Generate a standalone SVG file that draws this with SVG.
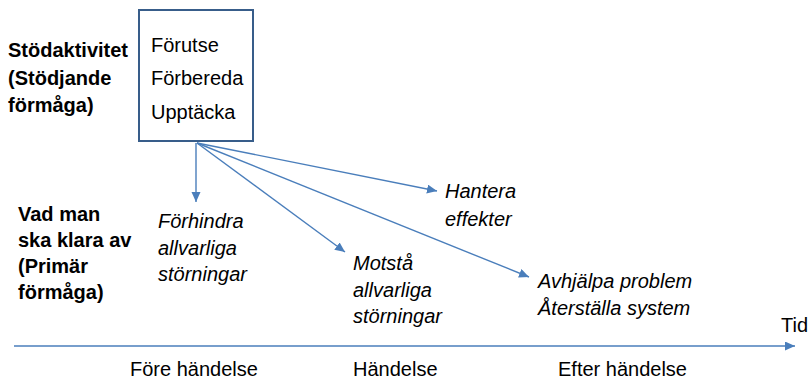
<svg xmlns="http://www.w3.org/2000/svg" width="808" height="380" viewBox="0 0 808 380">
<style>
text{font-family:"Liberation Sans",Arial,sans-serif;font-size:20px;fill:#000}
.b{font-weight:bold}
.i{font-style:italic}
.c{stroke:#4a7ebb;stroke-width:1.4;fill:none;marker-end:url(#ah)}
</style>
<defs>
<marker id="ah" markerUnits="userSpaceOnUse" markerWidth="12" markerHeight="10" refX="10" refY="4.5" orient="auto">
<path d="M0,0 L10,4.5 L0,9 Z" fill="#4a7ebb"/>
</marker>
</defs>
<rect width="808" height="380" fill="#fff"/>
<g id="label-stod">
<text class="b" x="8" y="57">Stödaktivitet</text>
<text class="b" x="8" y="85">(Stödjande</text>
<text class="b" x="8" y="112">förmåga)</text>
</g>
<g id="label-primar">
<text class="b" x="18" y="221">Vad man</text>
<text class="b" x="18" y="247">ska klara av</text>
<text class="b" x="18" y="273">(Primär</text>
<text class="b" x="18" y="299">förmåga)</text>
</g>
<g id="box">
<rect x="139" y="10" width="114" height="131" fill="#fff" stroke="#385d8a" stroke-width="2"/>
<text x="151" y="52">Förutse</text>
<text x="151" y="85">Förbereda</text>
<text x="151" y="119">Upptäcka</text>
</g>
<g id="connectors">
<line class="c" x1="196" y1="143" x2="196" y2="202"/>
<line class="c" x1="197" y1="143" x2="345" y2="252"/>
<line class="c" x1="197" y1="143" x2="437" y2="191"/>
<line class="c" x1="197" y1="143" x2="529" y2="277"/>
<line class="c" x1="14" y1="346" x2="795" y2="346"/>
</g>
<g id="forhindra">
<text class="i" x="158" y="228">Förhindra</text>
<text class="i" x="158" y="255">allvarliga</text>
<text class="i" x="158" y="281">störningar</text>
</g>
<g id="hantera">
<text class="i" x="445" y="198">Hantera</text>
<text class="i" x="445" y="226">effekter</text>
</g>
<g id="motsta">
<text class="i" x="353" y="270">Motstå</text>
<text class="i" x="353" y="297">allvarliga</text>
<text class="i" x="353" y="323">störningar</text>
</g>
<g id="avhjalpa">
<text class="i" x="538" y="288">Avhjälpa problem</text>
<text class="i" x="538" y="315">Återställa system</text>
</g>
<g id="timeline-labels">
<text x="781" y="332">Tid</text>
<text x="130" y="376">Före händelse</text>
<text x="353" y="376">Händelse</text>
<text x="558" y="376">Efter händelse</text>
</g>
</svg>
